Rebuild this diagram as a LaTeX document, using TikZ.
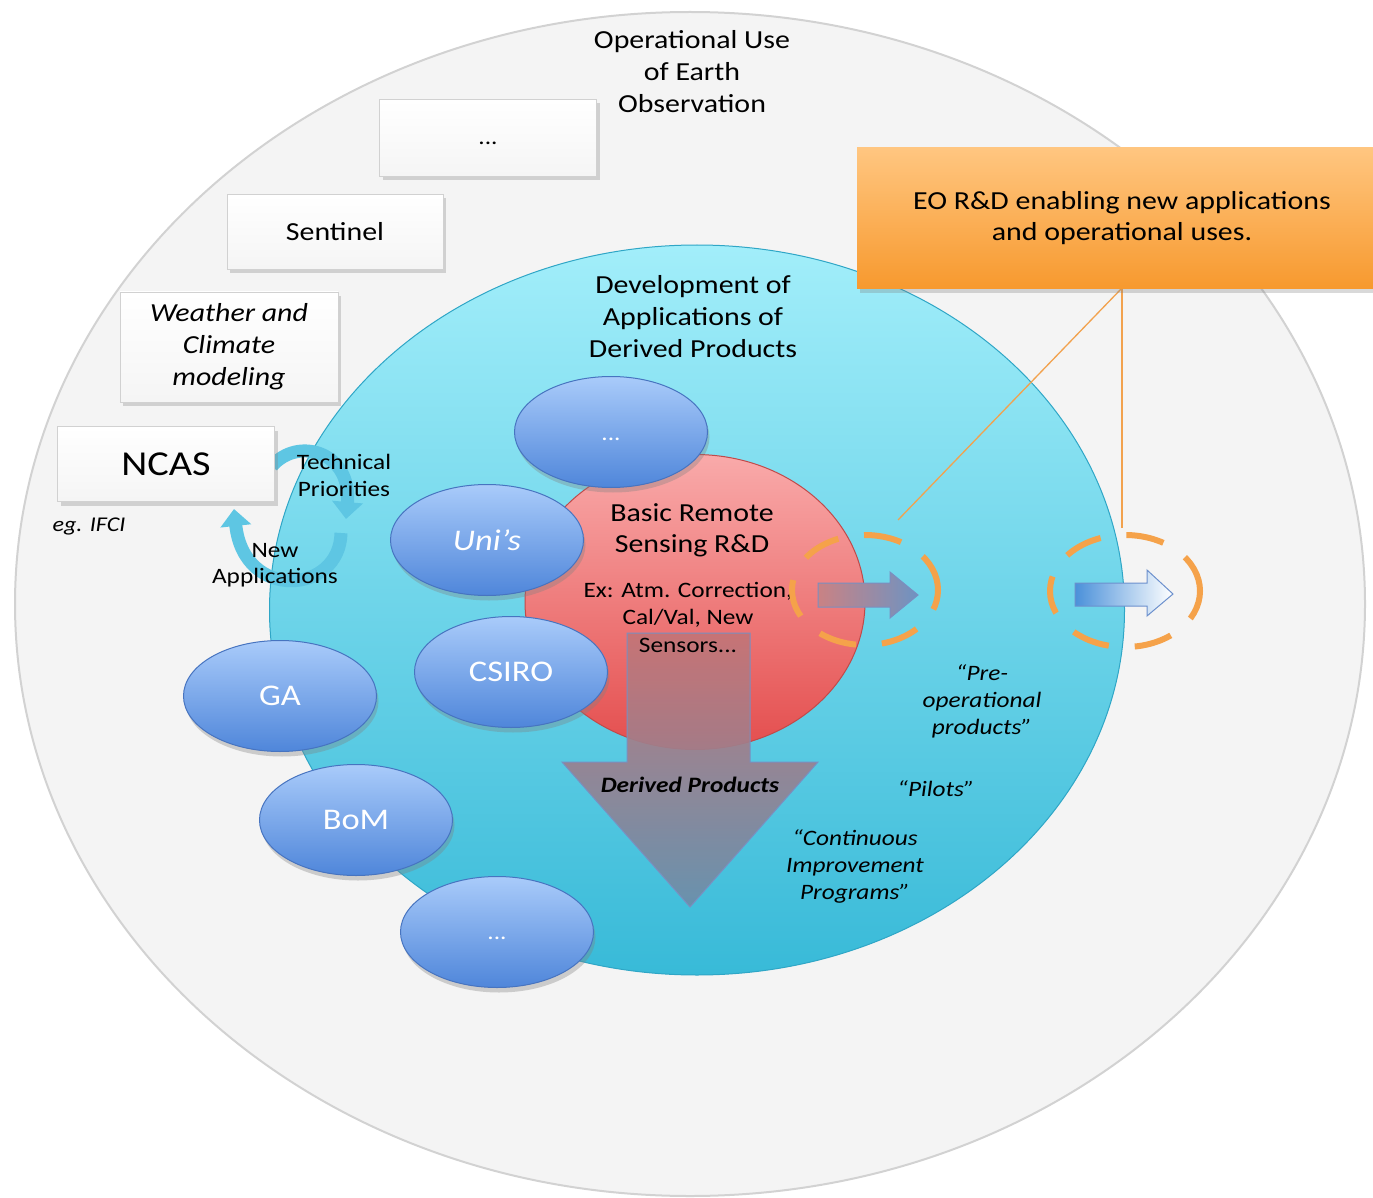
\documentclass[tikz,border=0pt]{standalone}
\usepackage{fontspec}
\setmainfont{Carlito}[FakeStretch=1.15]
\usetikzlibrary{shapes.geometric,shadows,arrows.meta}
\definecolor{outerfill}{HTML}{F4F4F4}
\definecolor{outeredge}{HTML}{D2D2D2}
\definecolor{cyanTop}{HTML}{A2EEFA}
\definecolor{cyanBot}{HTML}{38BAD8}
\definecolor{cyanEdge}{HTML}{2FA6C6}
\definecolor{redTop}{HTML}{F9AAAA}
\definecolor{redBot}{HTML}{E44E4E}
\definecolor{redEdge}{HTML}{C04A4A}
\definecolor{blobTop}{HTML}{A9CBFA}
\definecolor{blobBot}{HTML}{4F86DA}
\definecolor{blobEdge}{HTML}{4774C0}
\definecolor{orTop}{HTML}{FFC680}
\definecolor{orBot}{HTML}{F7992E}
\definecolor{orLine}{HTML}{F2A24E}
\definecolor{dashOr}{HTML}{F5A24A}
\definecolor{arrMauve}{HTML}{C47476}
\definecolor{arrSteel}{HTML}{6C8EAA}
\definecolor{arrEdge}{HTML}{7A8FC0}
\definecolor{arrBlue}{HTML}{6E93C2}
\definecolor{cycArr}{HTML}{5EC6E3}
\begin{document}
\begin{tikzpicture}[x=1pt,y=-1pt,
  blob/.style={ellipse, draw=blobEdge, line width=1pt, top color=blobTop, bottom color=blobBot,
    minimum width=193pt, minimum height=111pt, inner sep=0pt, text=white,
    font=\fontsize{30}{34}\selectfont,
    drop shadow={shadow xshift=2pt, shadow yshift=-5pt, opacity=0.35}},
  gbox/.style={rectangle, draw=black!18, line width=0.8pt, top color=white, bottom color=black!4,
    inner sep=0pt, align=center,
    drop shadow={shadow xshift=3pt, shadow yshift=-4pt, opacity=0.3}},
  lbl/.style={align=center, inner sep=0pt, text=black},
  itl/.style={lbl, font=\fontsize{22}{27}\selectfont\itshape},
  dring/.style={ellipse, draw=dashOr, line width=6pt, dash pattern=on 38pt off 26pt,
    minimum width=146pt, minimum height=110pt, inner sep=0pt},
  cyc/.style={draw=cycArr, line width=13pt,
    -{Triangle[width=30pt,length=17pt]}},
  eoline/.style={draw=orLine, line width=1.3pt},
]
\useasboundingbox (0,0) rectangle (1373,1198);

% circles
\node[ellipse, minimum width=1350pt, minimum height=1184pt, inner sep=0pt,
      fill=outerfill, draw=outeredge, line width=2pt] (outer) at (690,604) {};
\node[ellipse, minimum width=855pt, minimum height=730pt, inner sep=0pt,
      top color=cyanTop, bottom color=cyanBot, draw=cyanEdge, line width=1pt] (devcirc) at (697,610) {};
\node[ellipse, minimum width=340pt, minimum height=295pt, inner sep=0pt,
      top color=redTop, bottom color=redBot, draw=redEdge, line width=1pt] (rnd) at (695,602) {};

% blobs
\node[blob, font=\fontsize{22}{30}\selectfont, text height=16pt, text depth=0pt] (bltop) at (611,432) {...};
\node[blob, font=\fontsize{30}{34}\selectfont\itshape] (unis) at (487,540) {Uni’s};
\node[blob] (csiro) at (511,672) {CSIRO};
\node[blob] (ga) at (280,696) {GA};
\node[blob] (bom) at (356,820) {BoM};
\node[blob, font=\fontsize{22}{30}\selectfont, text height=14pt, text depth=0pt] (blbot) at (497,932) {...};

% big down arrow
\path[draw=arrEdge, line width=1pt, top color=arrMauve, bottom color=arrSteel, fill opacity=0.92]
  (627,633) -- (750,633) -- (750,762) -- (818,762) -- (690,907) -- (562,762) -- (627,762) -- cycle;

% texts in circles
\node[lbl, font=\fontsize{26}{32}\selectfont] (opuse) at (692,72) {Operational Use\\of Earth\\Observation};
\node[lbl, font=\fontsize{26}{32}\selectfont] (devapp) at (693,317) {Development of\\Applications of\\Derived Products};
\node[lbl, font=\fontsize{26}{31}\selectfont] (basic) at (692,530) {Basic Remote\\Sensing R\&D};
\node[lbl, font=\fontsize{22}{27.5}\selectfont] (ex) at (688,617) {Ex: Atm. Correction,\\Cal/Val, New\\Sensors...};
\node[lbl, font=\fontsize{22}{26}\selectfont\bfseries\itshape] (derived) at (690,785) {Derived Products};
\node[itl] (preop) at (982,701) {“Pre-\\operational\\products”};
\node[itl] (pilots) at (936,789) {“Pilots”};
\node[itl] (cip) at (855,866) {“Continuous\\Improvement\\Programs”};

% small right arrows
\path[draw=arrEdge, line width=1pt, left color=arrMauve!90!white, right color=arrBlue]
  (818,583) -- (890,583) -- (890,572) -- (918,595) -- (890,618) -- (890,607) -- (818,607) -- cycle;
\path[draw=blobEdge!80, line width=1pt, left color=blobBot!80!cyanBot, right color=white]
  (1075,583) -- (1147,583) -- (1147,570) -- (1173,594) -- (1147,616) -- (1147,606) -- (1075,606) -- cycle;

% dashed rings
\node[dring] (ring1) at (865,590) {};
\node[dring, minimum width=150pt, minimum height=112pt] (ring2) at (1125,591) {};

% orange callout
\coordinate (eofoot) at (1122,288);
\coordinate (tip1) at (898,520);
\coordinate (tip2) at (1122,528);
\draw[eoline] (eofoot) -- (tip1);
\draw[eoline] (eofoot) -- (tip2);
\node[rectangle, minimum width=530pt, minimum height=141pt, inner sep=0pt,
      top color=orTop, bottom color=orBot,
      drop shadow={shadow xshift=3pt, shadow yshift=-4pt, opacity=0.3},
      align=center, font=\fontsize{26}{31}\selectfont] (eo) at (1122,218.5)
      {EO R\&D enabling new applications\\and operational uses.};

% cycle arrows around NCAS
\coordinate (c1s) at (272,466);
\coordinate (c1e) at (346,519);
\coordinate (c2s) at (341,533);
\coordinate (c2e) at (234,509);
\draw[cyc] (c1s) .. controls (298,436) and (352,452) .. (c1e);
\draw[cyc] (c2s) .. controls (340,594) and (244,602) .. (c2e);

% grey boxes
\node[gbox, minimum width=217pt, minimum height=77pt, font=\fontsize{22}{30}\selectfont, text height=14pt, text depth=0pt] (bdots) at (488,138) {...};
\node[gbox, minimum width=216pt, minimum height=75pt, font=\fontsize{26}{30}\selectfont] (sentinel) at (335,232) {Sentinel};
\node[gbox, minimum width=218pt, minimum height=110pt, font=\fontsize{26}{32}\selectfont\itshape] (weather) at (229,347) {Weather and\\Climate\\modeling};
\node[gbox, minimum width=217pt, minimum height=75pt, font=\fontsize{35}{40}\selectfont] (ncas) at (166,464) {NCAS};

\node[lbl, font=\fontsize{22}{27}\selectfont] (techp) at (344,475) {Technical\\Priorities};
\node[lbl, font=\fontsize{22}{26}\selectfont] (newapp) at (275,565) {New\\Applications};
\node[lbl, font=\fontsize{21}{24}\selectfont\itshape] (egifci) at (89,526) {eg. IFCI};
\end{tikzpicture}
\end{document}
